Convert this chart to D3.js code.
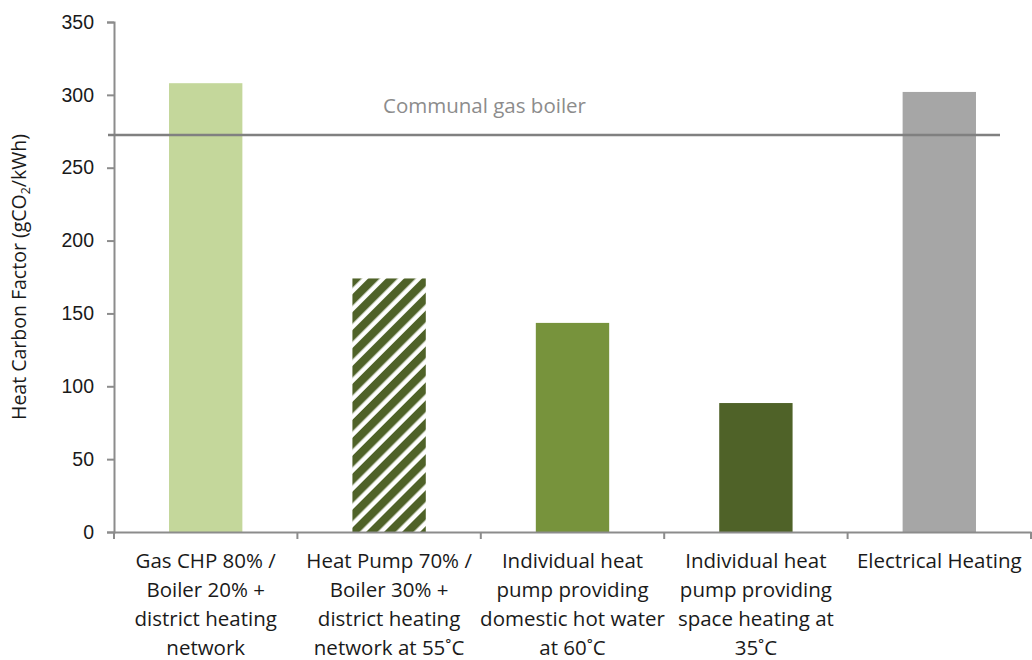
<!DOCTYPE html>
<html><head><meta charset="utf-8">
<script src="https://cdn.jsdelivr.net/npm/d3@7"></script>
<style>body{margin:0;background:#fff;} svg{display:block;font-family:"Open Sans",Lato,sans-serif;}</style>
</head><body>
<svg id="c" width="1032" height="660"></svg>
<script>
const categories = [
  ["Gas CHP 80% /","Boiler 20% +","district heating","network"],
  ["Heat Pump 70% /","Boiler 30% +","district heating","network at 55˚C"],
  ["Individual heat","pump providing","domestic hot water","at 60˚C"],
  ["Individual heat","pump providing","space heating at","35˚C"],
  ["Electrical Heating"]
];
const values = [308, 174, 143.5, 88.5, 302];
const fills = ["#c4d79b", "url(#hatch)", "#77933c", "#4f6228", "#a6a6a6"];
const baselineValue = 272.5;
const baselineLabel = "Communal gas boiler";
const yTicks = [0,50,100,150,200,250,300,350];

const svg = d3.select("#c");
const m = {l:114, r:1031, t:22, b:532};
const defs = svg.append("defs");
const pat = defs.append("pattern").attr("id","hatch").attr("patternUnits","userSpaceOnUse")
  .attr("width",12.7).attr("height",12.7).attr("patternTransform","rotate(45)");
pat.append("rect").attr("width",12.7).attr("height",12.7).attr("fill","#fff");
pat.append("rect").attr("width",8.2).attr("height",12.7).attr("fill","#4f6228");

const x = d3.scaleBand().domain(d3.range(categories.length)).range([m.l, m.r]).paddingInner(0.6).paddingOuter(0.3);
const xb = d3.scaleBand().domain(d3.range(categories.length)).range([m.l, m.r]);
const y = d3.scaleLinear().domain([0,350]).range([m.b, m.t]);

svg.selectAll("rect.bar").data(values).join("rect").attr("class","bar")
  .attr("x",(d,i)=>x(i)).attr("width",x.bandwidth())
  .attr("y",d=>y(d)).attr("height",d=>y(0)-y(d)).attr("fill",(d,i)=>fills[i]);

// y axis
const ya = svg.append("g").attr("transform",`translate(${m.l},0)`)
  .call(d3.axisLeft(y).tickValues(yTicks).tickSize(7).tickPadding(13));
ya.select(".domain").attr("stroke","#8c8c8c").attr("stroke-width",2);
ya.selectAll(".tick line").attr("stroke","#8c8c8c").attr("stroke-width",2);
ya.selectAll(".tick text").attr("font-size",19.5).attr("fill","#1a1a1a");

// x axis
const xa = svg.append("g").attr("transform",`translate(0,${m.b})`)
  .call(d3.axisBottom(xb).tickSize(0).tickFormat(""));
xa.select(".domain").attr("stroke","#8c8c8c").attr("stroke-width",2);
const edges = d3.range(categories.length+1).map(i => i<categories.length ? xb(i) : m.r);
xa.selectAll("line.edge").data(edges).join("line").attr("class","edge")
  .attr("x1",d=>d).attr("x2",d=>d).attr("y1",0).attr("y2",7)
  .attr("stroke","#8c8c8c").attr("stroke-width",2);

const lab = svg.append("g");
categories.forEach((lines,i)=>{
  const cx = xb(i)+xb.bandwidth()/2;
  const t = lab.append("text").attr("text-anchor","middle").attr("font-size",20.5).attr("fill","#1a1a1a")
    .attr("x", cx).attr("y", 568);
  lines.forEach((s,j)=> t.append("tspan").attr("x", cx).attr("dy", j===0?0:29).text(s));
});

// baseline
svg.append("line").attr("x1",108).attr("x2",1000).attr("y1",y(baselineValue)).attr("y2",y(baselineValue))
  .attr("stroke","#808080").attr("stroke-width",2.5);
svg.append("text").attr("x",383).attr("y",y(baselineValue)-22).attr("font-size",20.5).attr("fill","#8c8c8c").text(baselineLabel);

// y label
const yl = svg.append("text").attr("transform",`translate(26,${277}) rotate(-90)`)
  .attr("text-anchor","middle").attr("font-size",19.5).attr("fill","#1a1a1a");
yl.append("tspan").text("Heat Carbon Factor (gCO");
yl.append("tspan").attr("font-size",12.5).attr("dy",4).text("2");
yl.append("tspan").attr("dy",-4).text("/kWh)");
</script>
</body></html>
